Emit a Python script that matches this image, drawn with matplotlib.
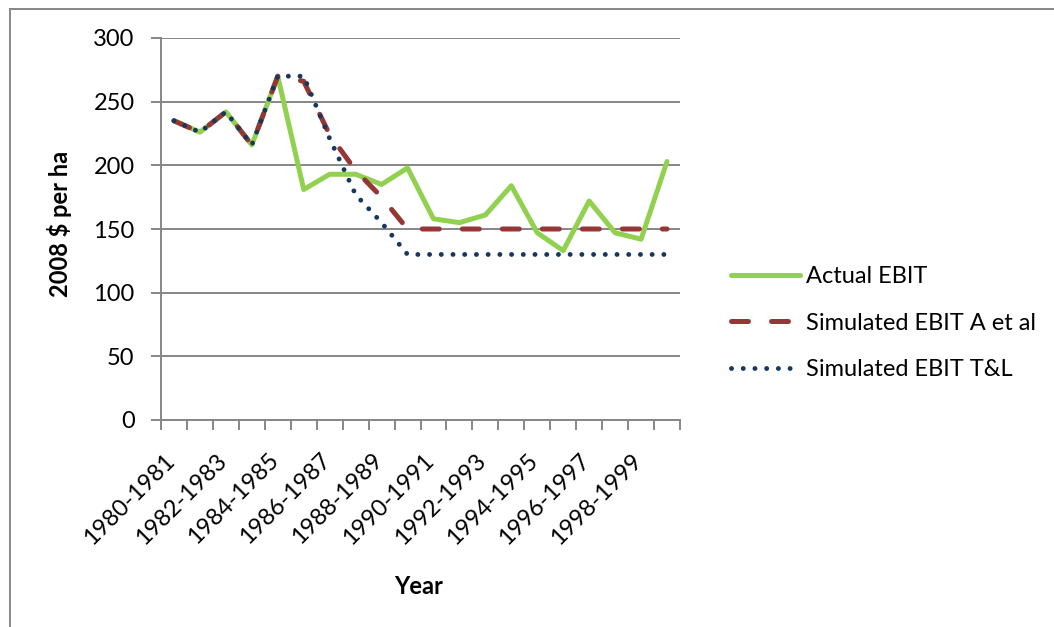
import matplotlib
matplotlib.use("Agg")
import matplotlib.pyplot as plt
from matplotlib.lines import Line2D

# --- data -------------------------------------------------------------
years = [f"{y}-{y + 1}" for y in range(1980, 2000)]
actual_ebit = [235, 226, 242, 216, 270, 181, 193, 193, 185, 198,
               158, 155, 161, 184, 147, 133, 172, 147, 142, 203]
sim_a_et_al = [235, 226, 242, 216, 270, 266, 224, 196, 175, 150,
               150, 150, 150, 150, 150, 150, 150, 150, 150, 150]
sim_tl = [235, 226, 242, 216, 270, 270, 221, 177, 155, 130,
          130, 130, 130, 130, 130, 130, 130, 130, 130, 130]
y_ticks = [0, 50, 100, 150, 200, 250, 300]

plt.rcParams['font.family'] = ['Lato', 'DejaVu Sans']
FS = 17

W, H = 1054, 627
fig = plt.figure(figsize=(W / 100, H / 100), dpi=100)
ax = fig.add_axes([161 / W, 1 - 420 / H, (680 - 161) / W, (420 - 38) / H])

grid_c = '#868686'
x = list(range(len(years)))

ax.plot(x, actual_ebit, color='#92D050', lw=3.6, solid_capstyle='round',
        solid_joinstyle='round', label='Actual EBIT', zorder=3)
ax.plot(x, sim_a_et_al, color='#953735', lw=3.6, dash_capstyle='round',
        dashes=(3.4, 4.6), label='Simulated EBIT A et al', zorder=4)
ax.plot(x, sim_tl, color='#17375E', lw=3.5, dash_capstyle='round',
        dashes=(0.01, 2.4), label='Simulated EBIT T&L', zorder=5)

ax.set_xlim(-0.5, len(years) - 0.5)
ax.set_ylim(0, 300)
ax.set_yticks(y_ticks)
ax.set_yticklabels([str(v) for v in y_ticks], fontsize=FS)
ax.yaxis.grid(True, color=grid_c, lw=1.4)
ax.set_axisbelow(True)

# category boundaries carry the tick marks, labels every other category
ax.set_xticks([i - 0.5 for i in range(len(years) + 1)])
ax.set_xticklabels([])
ax.tick_params(axis='x', length=7, width=1.4, color=grid_c)
ax.tick_params(axis='y', length=7, width=1.4, color=grid_c, pad=12)
for i in range(0, len(years), 2):
    ax.text(i - 0.1, -0.097, years[i], transform=ax.get_xaxis_transform(),
            rotation=45, rotation_mode='anchor', ha='right', va='center',
            fontsize=FS)

for s in ['top', 'right']:
    ax.spines[s].set_visible(False)
for s in ['left', 'bottom']:
    ax.spines[s].set_color(grid_c)
    ax.spines[s].set_linewidth(1.4)

fig.text(419 / W, 1 - 586 / H, 'Year', fontsize=FS, fontweight='bold',
         ha='center', va='center')
fig.text(60 / W, 1 - 224 / H, '2008 $ per ha', fontsize=FS, fontweight='bold',
         ha='center', va='center', rotation=90)

leg = fig.legend(loc='upper left', bbox_to_anchor=(719 / W, 1 - 254 / H),
                 frameon=False, fontsize=FS, handlelength=2.95,
                 handletextpad=0.22, labelspacing=1.09, borderpad=0)

# outer chart frame (left and top edges)
fig.add_artist(Line2D([10 / W, 10 / W], [0, 1 - 9 / H], color='#878787',
                      lw=1.4, transform=fig.transFigure))
fig.add_artist(Line2D([10 / W, 1], [1 - 9 / H, 1 - 9 / H], color='#878787',
                      lw=1.4, transform=fig.transFigure))

fig.savefig('out.png', dpi=100)
